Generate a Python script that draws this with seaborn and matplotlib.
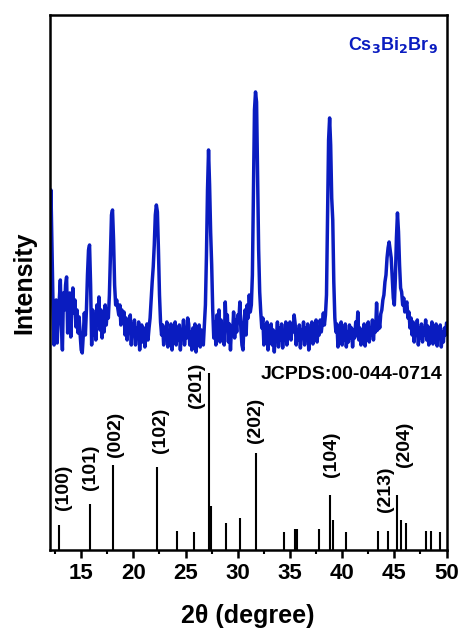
import numpy as np
import pandas as pd
from matplotlib import pyplot as plt
import seaborn as sns

# measured pattern, 2theta from 12 to 50 deg in 0.1 deg steps (arb. units)
two_theta = np.round(np.arange(12.0, 50.0001, 0.1), 1)
counts = [
    330, 360, 300, 245, 205, 230, 250, 207, 235, 250,
    270, 225, 200, 257, 240, 265, 273, 217, 245, 257,
    213, 240, 262, 237, 250, 223, 240, 217, 233, 215,
    200, 197, 215, 237, 215, 240, 275, 300, 305, 265,
    205, 240, 215, 235, 210, 245, 225, 253, 220, 240,
    212, 238, 218, 245, 225, 240, 232, 255, 295, 335,
    340, 310, 265, 245, 250, 242, 235, 245, 225, 240,
    230, 238, 215, 232, 210, 228, 222, 235, 205, 226,
    215, 230, 205, 222, 212, 228, 200, 218, 225, 208,
    222, 203, 215, 226, 210, 222, 232, 250, 268, 283,
    305, 335, 345, 338, 300, 255, 228, 215, 225, 205,
    222, 212, 228, 203, 218, 210, 226, 200, 220, 213,
    228, 205, 222, 210, 225, 200, 218, 215, 230, 205,
    220, 212, 232, 226, 205, 218, 200, 222, 210, 226,
    198, 218, 208, 225, 203, 220, 210, 205, 225, 245,
    295, 360, 400, 365, 318, 285, 240, 212, 228, 205,
    235, 215, 240, 208, 230, 212, 225, 205, 248, 220,
    235, 208, 226, 200, 222, 215, 238, 212, 230, 218,
    235, 228, 248, 220, 205, 200, 228, 240, 215, 245,
    232, 255, 238, 245, 275, 360, 440, 458, 448, 375,
    300, 258, 238, 222, 232, 205, 225, 212, 228, 200,
    222, 210, 226, 205, 220, 198, 218, 212, 228, 203,
    222, 210, 226, 202, 218, 212, 228, 205, 222, 214,
    228, 210, 225, 218, 235, 226, 205, 220, 210, 225,
    202, 220, 212, 228, 205, 222, 210, 226, 200, 218,
    212, 228, 206, 224, 214, 230, 208, 222, 215, 230,
    218, 228, 237, 225, 235, 255, 330, 410, 432, 405,
    352, 330, 268, 232, 218, 226, 203, 222, 212, 228,
    205, 220, 210, 226, 203, 218, 208, 225, 212, 222,
    203, 220, 212, 228, 215, 238, 210, 222, 205, 220,
    212, 226, 204, 220, 212, 228, 208, 222, 215, 230,
    210, 225, 218, 247, 220, 230, 222, 236, 240, 250,
    255, 268, 275, 292, 302, 308, 300, 292, 272, 252,
    245, 272, 312, 337, 318, 285, 262, 258, 245, 252,
    238, 245, 248, 232, 238, 222, 232, 215, 228, 208,
    225, 215, 230, 205, 222, 212, 226, 208, 222, 215,
    230, 210, 224, 205, 220, 214, 228, 206, 222, 212,
    226, 204, 220, 212, 225, 203, 218, 208, 222, 215,
    227,
]

# JCPDS 00-044-0714 reference lines (relative intensity, %)
ref_2theta = [12.89, 15.80, 18.09, 22.25, 24.17, 25.85, 27.23, 27.42, 28.89,
              30.23, 31.74, 34.47, 35.50, 35.70, 37.83, 38.85, 39.10, 40.35,
              43.48, 44.44, 45.24, 45.60, 46.13, 48.05, 48.50, 49.39]
ref_int = [14, 26, 48, 47, 11, 10, 100, 25, 15, 18, 55, 10, 12, 12, 12, 31,
           17, 10, 11, 11, 31, 17, 15, 11, 11, 10]

hkl = ["(100)", "(101)", "(002)", "(102)", "(201)", "(202)", "(104)", "(213)", "(204)"]

df = pd.DataFrame({"two_theta": two_theta, "counts": counts})

sns.set_style("ticks")
plt.rcParams["font.family"] = ["Liberation Sans", "DejaVu Sans"]
plt.rcParams["font.weight"] = "bold"
plt.rcParams["text.color"] = "black"
plt.rcParams["axes.labelcolor"] = "black"
plt.rcParams["axes.edgecolor"] = "black"
plt.rcParams["xtick.color"] = "black"

blue = "#0a1cc0"

fig = plt.figure(figsize=(4.62, 6.37), dpi=100)
ax = fig.add_axes([0.108, 0.1366, 0.8585, 0.8399])

sns.lineplot(data=df, x="two_theta", y="counts", ax=ax, color=blue,
             lw=2.5, sort=False, estimator=None)

stick_scale = 1.77
ax.vlines(ref_2theta, 0, np.array(ref_int) * stick_scale, color="black", lw=1.5)

# label anchors (x in deg, y bottom in axis units)
label_pos = [(13.30, 40), (15.86, 60), (18.26, 93), (22.57, 97), (26.01, 142),
             (31.67, 107), (39.01, 73), (44.20, 38), (46.02, 83)]
for name, (lx, ly) in zip(hkl, label_pos):
    ax.text(lx, ly, name, rotation=90, ha="center", va="bottom",
            fontsize=14, fontweight="bold")

ax.text(49.58, 175, "JCPDS:00-044-0714", ha="right", va="center",
        fontsize=14, fontweight="bold")
ax.text(49.2, 505, r"Cs$_\mathbf{3}$Bi$_\mathbf{2}$Br$_\mathbf{9}$", ha="right",
        va="center", fontsize=13, fontweight="bold", color=blue)

ax.set_xlim(12.0, 50.0)
ax.set_ylim(0, 535)
ax.set_xticks(np.arange(15, 51, 5))
ax.set_xticks(np.arange(12.5, 50, 5), minor=True)
ax.set_yticks([])
ax.tick_params(axis="x", which="major", direction="out", length=5.5, width=1.8,
               labelsize=16, pad=4)
ax.tick_params(axis="x", which="minor", direction="out", length=3, width=1.5)
for lab in ax.get_xticklabels():
    lab.set_fontweight("bold")
for sp in ax.spines.values():
    sp.set_linewidth(1.8)
    sp.set_visible(True)

ax.set_xlabel("2θ (degree)", fontsize=18, fontweight="bold", labelpad=14)
ax.set_ylabel("Intensity", fontsize=18, fontweight="bold", labelpad=10)

fig.savefig("out.png", dpi=100)
